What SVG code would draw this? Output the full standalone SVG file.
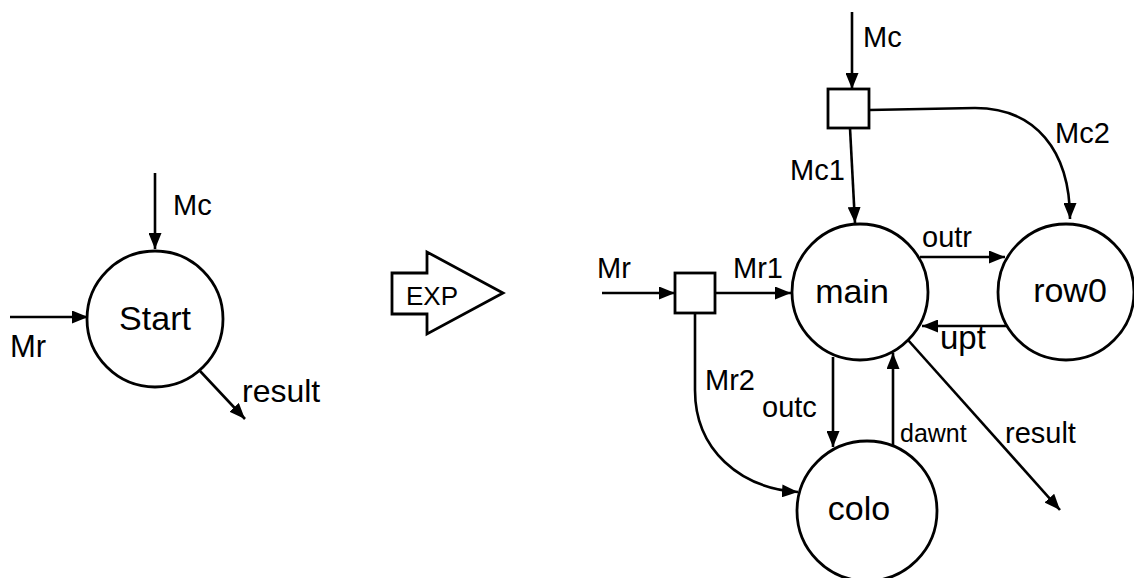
<svg xmlns="http://www.w3.org/2000/svg" width="1134" height="578" viewBox="0 0 1134 578">
<style>
.n{fill:#fff;stroke:#000;stroke-width:2.8}
.e{fill:none;stroke:#000;stroke-width:2.6;marker-end:url(#ah)}
text{font-family:"Liberation Sans","DejaVu Sans",sans-serif;fill:#000}
.nl{font-size:34px;text-anchor:middle}
.el{font-size:29px}
</style>
<defs>
<marker id="ah" markerUnits="userSpaceOnUse" markerWidth="16" markerHeight="13" refX="16" refY="6.5" orient="auto">
<path d="M0,0 L16,6.5 L0,13 z" fill="#000"/>
</marker>
</defs>
<rect width="1134" height="578" fill="#fff"/>
<g id="connectors">
<path class="e" d="M155,173 L155,249"/>
<path class="e" d="M10,317 L88,317"/>
<path class="e" d="M200,371 L245,419"/>
<path class="e" d="M852,12 L852,89"/>
<path class="e" d="M850,128 L855,223"/>
<path class="e" d="M869,110 L975,108 C1035,108 1070,150 1070,219"/>
<path class="e" d="M602,293 L675,293"/>
<path class="e" d="M715,293 L791,293"/>
<path class="e" d="M695,313 L695,390 C695,450 740,488 798,492"/>
<path class="e" d="M920,257 L1005,257"/>
<path class="e" d="M1007,326 L922,326"/>
<path class="e" d="M833,357 L833,447"/>
<path class="e" d="M893,447 L893,353"/>
<path class="e" d="M908,340 L1060,510"/>
</g>
<g id="labels">
<text class="el" x="173" y="215">Mc</text>
<text class="el" x="10" y="357" style="font-size:31px">Mr</text>
<text class="el" x="242" y="402" style="font-size:32px">result</text>
<text class="el" x="863" y="47">Mc</text>
<text class="el" x="790" y="180">Mc1</text>
<text class="el" x="1055" y="143">Mc2</text>
<text class="el" x="597" y="278">Mr</text>
<text class="el" x="733" y="278">Mr1</text>
<text class="el" x="705" y="390">Mr2</text>
<text class="el" x="922" y="247">outr</text>
<text class="el" x="940" y="349" style="font-size:33px">upt</text>
<text class="el" x="762" y="417">outc</text>
<text class="el" x="900" y="442" style="font-size:25px">dawnt</text>
<text class="el" x="1005" y="443">result</text>
</g>
<g id="start">
<circle class="n" cx="155" cy="319" r="68"/>
<text class="nl" x="155" y="330">Start</text>
</g>
<g id="exp">
<polygon class="n" points="392,273 427,273 427,252 503,293 427,334 427,314 392,314"/>
<text x="406" y="305" style="font-size:26px">EXP</text>
</g>
<g id="splitMc">
<rect class="n" x="828" y="89" width="41" height="39"/>
</g>
<g id="splitMr">
<rect class="n" x="675" y="273" width="40" height="40"/>
</g>
<g id="main">
<circle class="n" cx="860" cy="292" r="68"/>
<text class="nl" x="852" y="303">main</text>
</g>
<g id="row0">
<circle class="n" cx="1066" cy="292" r="68"/>
<text class="nl" x="1070" y="302">row0</text>
</g>
<g id="colo">
<circle class="n" cx="867" cy="511" r="70"/>
<text class="nl" x="859" y="520">colo</text>
</g>
</svg>
